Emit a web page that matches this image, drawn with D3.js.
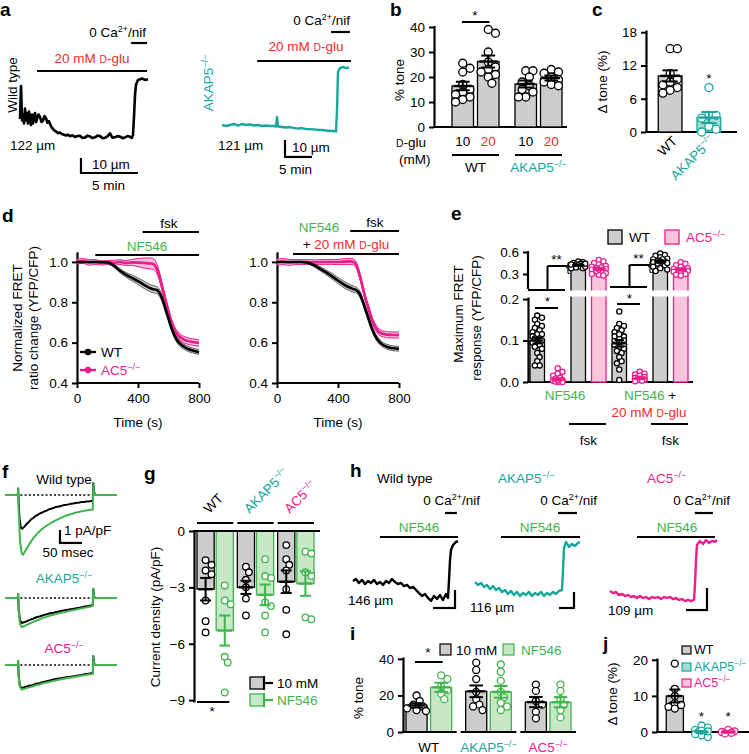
<!DOCTYPE html>
<html><head><meta charset="utf-8">
<script src="https://cdn.jsdelivr.net/npm/d3@7/dist/d3.min.js"></script>
<style>html,body{margin:0;padding:0;background:#fff;}svg{display:block;}</style>
</head><body>
<svg id="fig" width="749" height="754"></svg>
<script>
// ================= DATA =================
// panel a: arteriole diameter traces [time (min), diameter (µm)]
const aWT = [[0,134],[0.09,156],[0.18,133],[0.26,137],[0.35,131],[0.44,141],[0.53,133],[0.61,138],[0.7,131],[0.79,139],[0.88,134],[0.96,130],[1.05,137],[1.14,131],[1.23,136],[1.32,138],[1.41,132],[1.49,134],[1.62,137],[1.75,135.5],[1.88,132],[2.02,133],[2.15,136],[2.28,134.5],[2.41,131.5],[2.54,132.5],[2.68,130],[2.81,128],[2.94,127],[3.07,126],[3.2,125.5],[3.33,124.5],[3.5,125],[3.68,124],[3.86,123.5],[4.04,123],[4.2,123.6],[4.39,122.5],[4.6,123.2],[4.82,122],[5.04,122.7],[5.26,122.8],[5.48,121.4],[5.7,121.6],[5.92,122.9],[6.14,122.4],[6.36,121.3],[6.58,121.8],[6.8,122.9],[7.02,122.6],[7.24,121.2],[7.46,121.5],[7.68,122.4],[7.89,124.5],[8.1,121.6],[8.33,121.8],[8.55,122.6],[8.77,122.3],[9.0,121.2],[9.21,121.7],[9.43,122.6],[9.65,122.2],[9.8,121.4],[9.91,123],[10.0,135],[10.09,150],[10.18,157],[10.35,160],[10.7,161],[11.0,160],[11.23,160.5]];
const aAKAP = [[0,121],[0.74,120.4],[1.48,121],[2.22,121.6],[2.96,120.7],[3.7,121.6],[4.44,121],[5.19,121.3],[5.93,120.7],[6.67,121],[7.41,120.4],[8.15,120.7],[8.89,120.4],[9.63,120.4],[10.0,120.1],[10.19,125.7],[10.37,120.1],[11.1,119.8],[11.85,119.5],[12.59,119.8],[13.33,119.2],[14.07,118.9],[14.81,119.2],[15.56,118.6],[16.3,118.6],[17.04,118.4],[17.78,118.1],[18.52,118.1],[19.26,117.8],[20.0,117.5],[20.74,117.5],[21.11,117.2],[21.3,129.8],[21.48,152.2],[21.85,154.5],[22.41,155.1],[22.96,154.5],[23.52,154.8]];
const aWT_glu = [1.5, 11.15], aWT_ca = [9.75, 11.15];
const aAKAP_glu = [6.5, 23.9], aAKAP_ca = [20.2, 23.7];

// panel b: % tone
const bGroups = ["WT", "AKAP5"], bConds = ["10", "20"];
const bWT10 = [25.5,23.5,22,17,15,14,13,12,11,10];
const bWT20 = [39,37.5,30,26,24,23,21,20,17.5,22];
const bAK10 = [22.5,22.5,20,18,16.5,15,14,12,12];
const bAK20 = [23,22,21.5,20,19,18,17,16.5];
const bMeans = [16.4, 26.2, 17.2, 19.6];
const bSems  = [1.7, 2.4, 1.4, 1.0];

// panel c: Δ tone
const cCats = ["WT", "AKAP5"];
const cWT = [15,15,10.5,9.5,8.5,8,7.5,7,9];
const cAK = [8,3,3,2.5,1,0.5,0];
const cMeans = [10.1, 2.6], cSems = [1.0, 1.0];

// panel d: normalized FRET ratio (mean, sem)
const dTime = [0,40,80,120,160,200,240,280,320,360,400,440,480,500,520,540,560,580,600,620,640,660,680,720,760,800];
const dL_WT  = [1,1,1,1,1,0.998,0.982,0.958,0.937,0.921,0.905,0.887,0.870,0.865,0.862,0.848,0.815,0.768,0.72,0.672,0.635,0.608,0.592,0.572,0.561,0.553];
const dL_WTs = [0,0,0,0,0.002,0.004,0.007,0.01,0.012,0.014,0.016,0.018,0.018,0.018,0.017,0.017,0.016,0.016,0.015,0.015,0.014,0.014,0.013,0.013,0.012,0.012];
const dL_AC  = [1.002,1.005,0.998,1.0,0.995,0.998,0.996,1.0,0.995,0.998,0.997,0.995,0.993,0.99,0.972,0.93,0.87,0.81,0.752,0.7,0.662,0.64,0.625,0.61,0.603,0.598];
const dL_ACs = [0.012,0.012,0.014,0.012,0.01,0.01,0.012,0.012,0.012,0.015,0.02,0.025,0.027,0.027,0.025,0.022,0.02,0.019,0.018,0.018,0.017,0.016,0.016,0.016,0.016,0.016];
const dR_WT  = [1,1,1,1,1,0.997,0.985,0.968,0.95,0.93,0.908,0.888,0.872,0.866,0.86,0.845,0.81,0.765,0.72,0.675,0.64,0.615,0.598,0.58,0.572,0.57];
const dR_WTs = [0,0,0,0,0.002,0.004,0.007,0.01,0.012,0.014,0.015,0.016,0.016,0.016,0.015,0.015,0.015,0.014,0.014,0.013,0.013,0.013,0.012,0.012,0.012,0.012];
const dR_AC  = [1.0,1.002,0.998,1.0,1.0,1.0,0.998,1.0,1.0,1.0,1.0,1.002,1.003,1.0,0.985,0.94,0.88,0.82,0.77,0.72,0.685,0.66,0.648,0.64,0.638,0.638];
const dR_ACs = [0.015,0.015,0.015,0.012,0.012,0.012,0.012,0.012,0.012,0.012,0.013,0.014,0.015,0.015,0.015,0.015,0.015,0.015,0.015,0.015,0.015,0.015,0.015,0.015,0.015,0.015];
const dTicksX = [0,400,800], dTicksY = [0.4,0.6,0.8,1.0];
const dL_nf = [120, 800], dL_fsk = [430, 800];
const dR_nf = [105, 800], dR_fsk = [480, 800];

// panel e: maximum FRET response
const eGroups = ["NF546", "NF546+glu"], eConds = ["WT", "AC5", "WTfsk", "AC5fsk"];
const eWTNF   = [0.16,0.155,0.15,0.14,0.135,0.13,0.125,0.12,0.115,0.115,0.11,0.105,0.105,0.1,0.1,0.095,0.09,0.085,0.08,0.07,0.06,0.05,0.04,0.04];
const eACNF   = [0.033,0.025,0.02,0.015,0.01,0.008,0.005,0.003,0.002,0.0,0.0,0.001,0.004];
const eWTfsk  = [0.47,0.46,0.45,0.44,0.43,0.42,0.42,0.41,0.40,0.39,0.38,0.38,0.40,0.43,0.44];
const eACfsk  = [0.49,0.47,0.45,0.43,0.41,0.40,0.39,0.38,0.37,0.36,0.35,0.33,0.31,0.29,0.28,0.30,0.34,0.36];
const eWTNF2  = [0.17,0.14,0.135,0.13,0.125,0.12,0.11,0.105,0.1,0.1,0.095,0.09,0.085,0.08,0.075,0.07,0.06,0.05,0.045,0.03,0.005,0.11,0.115,0.09];
const eACNF2  = [0.025,0.02,0.018,0.015,0.012,0.01,0.008,0.006,0.005,0.003,0.002];
const eWTfsk2 = [0.58,0.56,0.55,0.53,0.51,0.5,0.48,0.47,0.46,0.45,0.44,0.42,0.4,0.38,0.36,0.34,0.5,0.47,0.45];
const eACfsk2 = [0.46,0.44,0.42,0.4,0.38,0.37,0.36,0.35,0.34,0.33,0.32,0.3,0.29,0.28];
const eMeans = [0.1, 0.006, 0.42, 0.37, 0.093, 0.009, 0.47, 0.36];
const eSems  = [0.007, 0.0025, 0.008, 0.014, 0.008, 0.002, 0.015, 0.013];
const eTicksLow = [0.0, 0.1, 0.2], eTicksUp = [0.3, 0.6];

// panel f: current traces [time (ms), current (pA/pF)]
const fWT_10 = [[0,0],[29,0],[30,0.5],[31,-0.5],[33,-1.8],[36,-2.5],[39,-2.6],[44,-2.45],[50,-2.2],[55,-2.05],[60,-1.85],[65,-1.75],[70,-1.6],[75,-1.52],[80,-1.4],[85,-1.35],[90,-1.25],[95,-1.2],[100,-1.1],[105,-1.06],[110,-1.0],[115,-0.93],[120,-0.9],[125,-0.87],[130,-0.82],[135,-0.77],[140,-0.75],[145,-0.72],[150,-0.68],[155,-0.66],[160,-0.62],[165,-0.6],[170,-0.58],[175,-0.53],[180,-0.54],[185,-0.5],[190,-0.5],[195,-0.47],[200,-0.46],[201,0.9],[203,0.2],[206,0],[255,0]];
const fWT_NF = [[0,0],[29,0],[30,0.5],[31,-1],[34,-3.5],[38,-4.5],[41,-4.6],[46,-4.3],[55,-3.8],[60,-3.55],[65,-3.3],[70,-3.1],[75,-2.9],[80,-2.75],[85,-2.6],[90,-2.48],[95,-2.35],[100,-2.25],[105,-2.15],[110,-2.05],[115,-1.95],[120,-1.88],[125,-1.8],[130,-1.72],[135,-1.65],[140,-1.58],[145,-1.52],[150,-1.47],[155,-1.42],[160,-1.37],[165,-1.33],[170,-1.29],[175,-1.25],[180,-1.22],[185,-1.19],[190,-1.16],[200,-1.12],[201,0.8],[203,0.2],[206,0],[255,0]];
const fAK_10 = [[0,0],[29,0],[30,0.3],[31,-0.8],[34,-1.7],[38,-1.92],[45,-1.85],[55,-1.7],[62,-1.62],[70,-1.5],[78,-1.43],[85,-1.35],[92,-1.28],[100,-1.2],[110,-1.13],[120,-1.05],[130,-0.98],[140,-0.92],[150,-0.86],[160,-0.8],[170,-0.74],[180,-0.68],[190,-0.62],[200,-0.55],[201,0.7],[203,0.1],[206,0],[255,0]];
const fAK_NF = [[0,0],[29,0],[30,0.3],[31,-0.9],[34,-2.0],[38,-2.23],[45,-2.15],[55,-1.98],[62,-1.87],[70,-1.75],[78,-1.65],[85,-1.55],[92,-1.47],[100,-1.38],[110,-1.29],[120,-1.2],[130,-1.12],[140,-1.05],[150,-0.97],[160,-0.9],[170,-0.83],[180,-0.76],[190,-0.69],[200,-0.62],[201,0.7],[203,0.1],[206,0],[255,0]];
const fAC_10 = [[0,0],[29,0],[30,0.3],[31,-0.8],[34,-1.6],[38,-1.77],[45,-1.7],[55,-1.6],[62,-1.55],[70,-1.45],[78,-1.4],[85,-1.32],[92,-1.27],[100,-1.2],[110,-1.12],[120,-1.06],[130,-1.0],[140,-0.95],[150,-0.9],[160,-0.85],[170,-0.78],[180,-0.72],[190,-0.68],[200,-0.62],[201,0.7],[203,0.1],[206,0],[255,0]];
const fAC_NF = [[0,0],[29,0],[30,0.3],[31,-0.9],[34,-1.7],[38,-1.88],[45,-1.82],[55,-1.72],[62,-1.65],[70,-1.56],[78,-1.5],[85,-1.42],[92,-1.36],[100,-1.3],[110,-1.22],[120,-1.15],[130,-1.08],[140,-1.02],[150,-0.96],[160,-0.9],[170,-0.84],[180,-0.78],[190,-0.73],[200,-0.69],[201,0.7],[203,0.1],[206,0],[255,0]];

// panel g: current density (pA/pF)
const gGroups = ["WT", "AKAP5", "AC5"], gConds = ["10 mM", "NF546"];
const gWT10 = [-1.55,-1.8,-2.1,-2.3,-3.7,-4.8,-5.4];
const gWTNF = [-2.9,-3.7,-3.9,-6.7,-7.0,-8.6];
const gAK10 = [-1.9,-2.2,-2.6,-3.0,-3.6,-4.5];
const gAKNF = [-1.5,-2.4,-2.5,-3.8,-4.0,-4.5,-5.4];
const gAC10 = [-0.75,-1.5,-1.8,-2.1,-3.1,-4.2,-5.5];
const gACNF = [-1.1,-1.2,-2.2,-2.4,-4.6,-4.7];
const gMeans = [-3.1, -5.3, -3.0, -3.4, -2.7, -2.8];
const gSems  = [0.6, 0.8, 0.35, 0.55, 0.6, 0.65];
const gTicks = [0, -3, -6, -9];

// panel h: diameter traces [time (min), diameter (µm)]
const hWT = [[0,146],[0.68,147.1],[1.36,144.9],[2.05,146.6],[2.73,144.3],[3.41,146],[4.09,144.9],[4.77,146.6],[5.45,144.3],[6.14,145.4],[6.82,143.8],[7.5,146],[8.18,144.9],[8.86,147.1],[9.55,145.4],[10.23,144.3],[10.91,144.9],[11.59,143.2],[12.27,143.8],[12.95,142.1],[13.64,142.7],[14.32,141],[15,139.3],[15.68,137.7],[16.36,138.8],[17.05,136.6],[17.73,134.9],[18.41,137.7],[19.09,136],[19.77,138.2],[20.45,135.4],[21.14,138.8],[21.59,136.6],[21.82,146.6],[22.05,157.7],[22.27,163.2],[22.73,166],[23.41,167.7],[23.86,168.2]];
const hAKAP = [[0,116],[1,114.1],[2,115.4],[3,112.9],[4,114.1],[5,111.6],[6,113.5],[7,111],[8,112.3],[9,109.8],[10,111],[11,108.5],[12,110.4],[13,107.9],[14,109.8],[15,107.3],[16,109.1],[17,107.9],[18,109.8],[19,107.3],[20,109.1],[21,107.9],[22,109.8],[23,107.3],[24,109.1],[25,107.9],[26,109.8],[27,108.5],[28,110.4],[29,111],[29.33,123.5],[29.67,137.3],[30.33,141],[31.33,137.9],[32.33,139.8],[33.33,138.5],[34.33,140.4],[35,141]];
const hAC5 = [[0,109.5],[0.71,108.5],[1.43,109],[2.14,107.6],[2.86,108.1],[3.57,107.2],[4.29,107.6],[5,106.7],[5.71,107.2],[6.43,106.3],[7.14,107.2],[7.86,106.3],[8.57,106.7],[9.29,105.8],[10,106.7],[10.71,106.3],[11.43,106.7],[12.14,105.8],[12.86,106.7],[13.57,106.3],[14.29,106.7],[15,105.8],[15.71,106.3],[16.43,105.4],[17.14,105.8],[17.86,104.9],[18.57,105.4],[19.29,104.9],[20,105.4],[20.24,112.2],[20.48,123.5],[20.71,130.4],[21.43,132.2],[22.14,130.8],[22.86,132.6],[23.57,131.3],[24.29,132.2],[25,131.8],[25.48,132.6]];
const hWT_nf = [6.14, 23.86], hWT_ca = [20.9, 23.6];
const hAK_nf = [8.67, 35], hAK_ca = [27.67, 34];
const hAC_nf = [6.43, 25], hAC_ca = [20.2, 24.5];

// panel i: % tone
const iGroups = ["WT", "AKAP5", "AC5"], iConds = ["10 mM", "NF546"];
const iWT10 = [20,17,15,14,13,12,11.5];
const iWTNF = [31,29,25,23,21,18];
const iAK10 = [38,34,29,22,18,15,14,12];
const iAKNF = [37,33,28,22,19,16,14,12];
const iAC10 = [26,22.5,17,15,11,7.5];
const iACNF = [26,22.5,18,15,12,8];
const iMeans = [14.6, 24.5, 22.3, 22.0, 16.4, 16.3];
const iSems  = [1.2, 2.5, 3.2, 3.2, 2.8, 2.8];

// panel j: Δ tone
const jCats = ["WT", "AKAP5", "AC5"];
const jWT = [19,12,10,8,7,6.5,7.5];
const jAK = [1.8,1.2,0.6,0,-0.4,-0.9,-1.4,0.4,-0.6,0.2];
const jAC = [0.6,0.2,-0.2,0,-0.4];
const jMeans = [10, 0, 0], jSems = [1.8, 0.3, 0.2];

// ================= STYLE =================
const FONT = "'Liberation Sans', Arial, Helvetica, sans-serif";
const FS = 13.5;
const COL = {teal:"#17a79d", pink:"#ec1c8c", green:"#3fb54c", red:"#ee2b2e", grey:"#cdcdcd",
  lgreen:"#c8e7c7", lpink:"#f7c5dc", lteal:"#a3dbd5", band:"#c4c4c4", lband:"#f6b6d6"};

const svg = d3.select("#fig").attr("font-family", FONT);

// ================= HELPERS =================
function line(g,x1,y1,x2,y2,col="#000",w=2){
  return g.append("line").attr("x1",x1).attr("y1",y1).attr("x2",x2).attr("y2",y2)
    .attr("stroke",col).attr("stroke-width",w).attr("stroke-linecap","butt");
}
function rich(g,x,y,parts,o={}){
  const size=o.size||FS;
  const t=g.append("text").attr("x",x).attr("y",y).attr("font-size",size)
    .attr("text-anchor",o.anchor||"start").attr("fill",o.fill||"#000");
  if(o.rot) t.attr("transform",`rotate(${o.rot},${x},${y})`);
  if(o.bold) t.attr("font-weight","bold");
  if(typeof parts==="string") parts=[[parts]];
  let cur=0;
  parts.forEach(p=>{
    const st=p[1]||{};
    const s=t.append("tspan").text(p[0]);
    if(st.fill) s.attr("fill",st.fill);
    let target=0;
    if(st.sup){ s.attr("font-size",size*0.66); target=-size*0.4; }
    if(st.sc){ s.attr("font-size",size*0.76); }
    if(target-cur!==0) s.attr("dy",target-cur);
    cur=target;
  });
  return t;
}
const KO = name => [[name],["\u2212/\u2212",{sup:true}]];
const CA = [["0 Ca"],["2+",{sup:true}],["/nif"]];
const GLU = [["20 mM "],["D",{sc:true}],["-glu"]];
function letter(g,x,y,s){ rich(g,x,y,s,{size:19,bold:true}); }

function yAxis(g, scale, ticks, x, fmt){
  const ax=g.append("g").attr("transform",`translate(${x},0)`)
    .call(d3.axisLeft(scale).tickValues(ticks).tickSize(5).tickSizeOuter(0).tickPadding(4).tickFormat(fmt||(d=>d)));
  ax.attr("font-family",FONT).attr("font-size",FS);
  ax.select(".domain").attr("stroke-width",2.2);
  ax.selectAll(".tick line").attr("stroke-width",2);
  ax.selectAll(".tick text").attr("fill","#000");
  return ax;
}
function xAxisB(g, scale, ticks, y){
  const ax=g.append("g").attr("transform",`translate(0,${y})`)
    .call(d3.axisBottom(scale).tickValues(ticks).tickSize(5).tickSizeOuter(0).tickPadding(5));
  ax.attr("font-family",FONT).attr("font-size",FS);
  ax.select(".domain").attr("stroke-width",2.2);
  ax.selectAll(".tick line").attr("stroke-width",2);
  ax.selectAll(".tick text").attr("fill","#000");
  return ax;
}
function nested(groups, conds, x0, x1, gGap, bGap){
  const gStep=(x1-x0+gGap)/groups.length;
  const G=d3.scaleBand().domain(groups).range([x0,x1]).paddingInner(gGap/gStep).paddingOuter(0);
  const bw=G.bandwidth();
  const cStep=(bw+bGap)/conds.length;
  const B=d3.scaleBand().domain(conds).range([0,bw]).paddingInner(bGap/cStep).paddingOuter(0);
  return {G,B,pos:(gr,c)=>({x:G(gr)+B(c), w:B.bandwidth()})};
}
function swarm(vals, ys, cx, r, maxOff){
  const idx=vals.map((v,i)=>({i,y:ys(v)})).sort((a,b)=>a.y-b.y);
  const placed=[], out=new Array(vals.length);
  const cands=[0]; for(let k=1;k<=14;k++){cands.push(k*r*0.9,-k*r*0.9);}
  idx.forEach(p=>{
    let chosen=null,best=-1,bestOff=0;
    for(const off of cands){
      if(Math.abs(off)>maxOff+1e-6) continue;
      let md=Infinity;
      for(const q of placed){const dd=Math.hypot(q.x-off,q.y-p.y); if(dd<md) md=dd;}
      if(md>=2*r*0.9){chosen=off;break;}
      if(md>best){best=md;bestOff=off;}
    }
    if(chosen===null) chosen=bestOff;
    placed.push({x:chosen,y:p.y}); out[p.i]=cx+chosen;
  });
  return out;
}
function barSet(g, spec, ys, base){
  const yb=ys(base), yt=ys(spec.mean);
  g.append("rect").attr("x",spec.x).attr("y",Math.min(yb,yt)).attr("width",spec.w)
    .attr("height",Math.abs(yb-yt)).attr("fill",spec.fill).attr("stroke",spec.stroke).attr("stroke-width",1.3);
  const cx=spec.x+spec.w/2, r=spec.r||3.5;
  const xs=swarm(spec.pts, ys, cx, r, spec.w/2 - r*0.3);
  g.selectAll(null).data(spec.pts).enter().append("circle")
    .attr("cx",(d,i)=>xs[i]).attr("cy",d=>ys(d)).attr("r",r)
    .attr("fill","#fff").attr("stroke",spec.dot).attr("stroke-width",1.3);
  errBar(g, cx, spec.w, ys, spec.mean, spec.sem, spec.eb||spec.dot);
}
function errBar(g,cx,w,ys,m,s,col){
  const c=w*0.32, ml=w*0.42;
  line(g,cx,ys(m-s),cx,ys(m+s),col,2);
  line(g,cx-c,ys(m-s),cx+c,ys(m-s),col,2);
  line(g,cx-c,ys(m+s),cx+c,ys(m+s),col,2);
  line(g,cx-ml,ys(m),cx+ml,ys(m),col,2.4);
}
function trace(g,data,xs,ys,col,w){
  g.append("path").datum(data).attr("fill","none").attr("stroke",col).attr("stroke-width",w)
    .attr("stroke-linejoin","round").attr("d",d3.line().x(d=>xs(d[0])).y(d=>ys(d[1])));
}
function protoBar(g,xs,range,y){ line(g,xs(range[0]),y,xs(range[1]),y,"#000",2.2); }
function scaleBar(g,xs,ys,t,d,dt,dd){
  line(g,xs(t),ys(d)+1,xs(t),ys(d+dd),"#000",2.2);
  line(g,xs(t),ys(d),xs(t+dt),ys(d),"#000",2.2);
}

// ================= PANEL a =================
{
  const g=svg.append("g");
  letter(g,0,16,"a");
  const xs=d3.scaleLinear().domain([0,11.23]).range([20,148]);
  const ys=d3.scaleLinear().domain([122,161]).range([137,78.5]);
  rich(g,17,85,"Wild type",{rot:-90,anchor:"middle"});
  rich(g,146,37,CA,{anchor:"end"});
  protoBar(g,xs,aWT_ca,43);
  rich(g,92,63,GLU,{anchor:"middle",fill:COL.red});
  protoBar(g,xs,aWT_glu,71);
  trace(g,aWT,xs,ys,"#000",2.6);
  rich(g,10,150,"122 \u00b5m");
  scaleBar(g,xs,ys,5.35,98,5,10);
  rich(g,92,169,"10 \u00b5m");
  rich(g,92,190,"5 min");

  const xs2=d3.scaleLinear().domain([0,23.52]).range([222,349]);
  const ys2=d3.scaleLinear().domain([121,155.1]).range([125,67]);
  rich(g,213,83,KO("AKAP5"),{rot:-90,anchor:"middle",fill:COL.teal});
  rich(g,350,25,CA,{anchor:"end"});
  protoBar(g,xs2,aAKAP_ca,32);
  rich(g,306,51,GLU,{anchor:"middle",fill:COL.red});
  protoBar(g,xs2,aAKAP_glu,61);
  trace(g,aAKAP,xs2,ys2,COL.teal,2.4);
  rich(g,218,150,"121 \u00b5m");
  scaleBar(g,xs2,ys2,11.67,102.2,5,10);
  rich(g,292,152,"10 \u00b5m");
  rich(g,279,174,"5 min");
}

// ================= PANEL b =================
{
  const g=svg.append("g");
  letter(g,390,16,"b");
  const ys=d3.scaleLinear().domain([0,40]).range([127,27]);
  const L=nested(bGroups,bConds,452,562,16,4);
  yAxis(g,d3.scaleLinear().domain([0,40.6]).range([127,25.5]),[0,10,20,30,40],434);
  line(g,433,127,567,127,"#000",2.2);
  rich(g,404,80,"% tone",{rot:-90,anchor:"middle"});
  const pts=[bWT10,bWT20,bAK10,bAK20];
  let k=0;
  bGroups.forEach(gr=>bConds.forEach(c=>{
    const p=L.pos(gr,c);
    barSet(g,{x:p.x,w:p.w,mean:bMeans[k],sem:bSems[k],pts:pts[k],fill:COL.grey,stroke:"#000",dot:"#000",r:4},ys,0);
    rich(g,p.x+p.w/2,146,c,{anchor:"middle",fill:c==="20"?COL.red:"#000"});
    k++;
  }));
  rich(g,396,147,[["D",{sc:true}],["-glu"]]);
  rich(g,399,164,"(mM)");
  bGroups.forEach(gr=>{
    const x0=L.G(gr), x1=x0+L.G.bandwidth();
    line(g,x0,155,x1,155,"#000",2.2);
  });
  const wtC=L.G("WT")+L.G.bandwidth()/2, akC=L.G("AKAP5")+L.G.bandwidth()/2;
  rich(g,wtC,172,"WT",{anchor:"middle"});
  rich(g,akC,172,KO("AKAP5"),{anchor:"middle",fill:COL.teal});
  line(g,L.pos("WT","10").x+10,22,L.pos("WT","20").x+12,22,"#000",2);
  rich(g,475,20,"*",{anchor:"middle"});
}

// ================= PANEL c =================
{
  const g=svg.append("g");
  letter(g,592,16,"c");
  const ys=d3.scaleLinear().domain([0,18]).range([132,32]);
  const L=nested(["all"],cCats,652,727,15,15);
  yAxis(g,d3.scaleLinear().domain([0,18.4]).range([132,30]),[0,6,12,18],646);
  line(g,645,132,737,132,"#000",2.2);
  rich(g,607,82,[["\u0394 tone (%)"]],{rot:-90,anchor:"middle"});
  const pWT=L.pos("all","WT"), pAK=L.pos("all","AKAP5");
  barSet(g,{x:pWT.x,w:pWT.w,mean:cMeans[0],sem:cSems[0],pts:cWT,fill:COL.grey,stroke:"#000",dot:"#000",r:4},ys,0);
  barSet(g,{x:pAK.x,w:pAK.w,mean:cMeans[1],sem:cSems[1],pts:cAK,fill:COL.lteal,stroke:COL.teal,dot:COL.teal,r:4},ys,0);
  rich(g,pAK.x+pAK.w/2,83,"*",{anchor:"middle"});
  rich(g,pWT.x+pWT.w/2+8,142,"WT",{anchor:"end",rot:-45});
  rich(g,pAK.x+pAK.w/2+7,141,KO("AKAP5"),{anchor:"end",rot:-45,fill:COL.teal});
}

// ================= PANEL d =================
function fretPlot(g, x0, mWT, sWT, mAC, sAC){
  const xs=d3.scaleLinear().domain([0,800]).range([x0,x0+122]);
  const ys=d3.scaleLinear().domain([0.4,1.0]).range([383,262]);
  yAxis(g,d3.scaleLinear().domain([0.4,1.05]).range([383,251.8]),dTicksY,x0,d3.format(".1f"));
  const ax=xAxisB(g,xs,dTicksX,383);
  ax.select(".domain").attr("d",`M${x0},0H${x0+122}`);
  const rows=dTime.map((t,i)=>({t,wm:mWT[i],ws:sWT[i],am:mAC[i],as:sAC[i]}));
  const areaW=d3.area().x(d=>xs(d.t)).y0(d=>ys(d.wm-d.ws)).y1(d=>ys(d.wm+d.ws)).curve(d3.curveMonotoneX);
  const areaA=d3.area().x(d=>xs(d.t)).y0(d=>ys(d.am-d.as)).y1(d=>ys(d.am+d.as)).curve(d3.curveMonotoneX);
  const lw=(acc)=>d3.line().x(d=>xs(d.t)).y(acc).curve(d3.curveMonotoneX);
  g.append("path").datum(rows).attr("d",areaA).attr("fill",COL.lband).attr("opacity",0.85);
  g.append("path").datum(rows).attr("d",lw(d=>ys(d.am+d.as))).attr("fill","none").attr("stroke",COL.pink).attr("stroke-width",1);
  g.append("path").datum(rows).attr("d",lw(d=>ys(d.am-d.as))).attr("fill","none").attr("stroke",COL.pink).attr("stroke-width",1);
  g.append("path").datum(rows).attr("d",areaW).attr("fill",COL.band).attr("opacity",0.85);
  g.append("path").datum(rows).attr("d",lw(d=>ys(d.wm+d.ws))).attr("fill","none").attr("stroke","#444").attr("stroke-width",0.8);
  g.append("path").datum(rows).attr("d",lw(d=>ys(d.wm-d.ws))).attr("fill","none").attr("stroke","#444").attr("stroke-width",0.8);
  g.append("path").datum(rows).attr("d",lw(d=>ys(d.am))).attr("fill","none").attr("stroke",COL.pink).attr("stroke-width",2.6);
  g.append("path").datum(rows).attr("d",lw(d=>ys(d.wm))).attr("fill","none").attr("stroke","#000").attr("stroke-width",2.6);
  rich(g,x0+61,427,"Time (s)",{anchor:"middle"});
  return xs;
}
{
  const g=svg.append("g");
  letter(g,2,222,"d");
  const xs=fretPlot(g,77,dL_WT,dL_WTs,dL_AC,dL_ACs);
  rich(g,22,318,"Normalized FRET",{rot:-90,anchor:"middle"});
  rich(g,38,318,"ratio change (YFP/CFP)",{rot:-90,anchor:"middle"});
  protoBar(g,xs,dL_fsk,232); rich(g,169,228,"fsk",{anchor:"middle"});
  protoBar(g,xs,dL_nf,255); rich(g,147,251,"NF546",{anchor:"middle",fill:COL.green});
  line(g,80,352,96,352,"#000",2.4); g.append("circle").attr("cx",88).attr("cy",352).attr("r",3.2).attr("fill","#000");
  rich(g,101,357,"WT");
  line(g,80,370,96,370,COL.pink,2.4); g.append("circle").attr("cx",88).attr("cy",370).attr("r",3.2).attr("fill",COL.pink);
  rich(g,101,375,KO("AC5"),{fill:COL.pink});

  const g2=svg.append("g");
  const xs2=fretPlot(g2,277,dR_WT,dR_WTs,dR_AC,dR_ACs);
  protoBar(g2,xs2,dR_fsk,231); rich(g2,375,227,"fsk",{anchor:"middle"});
  rich(g2,319,232,"NF546",{anchor:"middle",fill:COL.green});
  rich(g2,346,249,[["+ "],["20 mM ",{fill:COL.red}],["D",{sc:true,fill:COL.red}],["-glu",{fill:COL.red}]],{anchor:"middle"});
  protoBar(g2,xs2,dR_nf,254);
}

// ================= PANEL e =================
{
  const g=svg.append("g");
  letter(g,451,220,"e");
  const yL=d3.scaleLinear().domain([0,0.2]).range([382,299]);
  const yU=d3.scaleLinear().domain([0.3,0.6]).range([274,252]);
  const L=nested(eGroups,eConds,530,688,6,6);
  yAxis(g,d3.scaleLinear().domain([0,0.205]).range([382,297]),eTicksLow,528,d3.format(".1f"));
  const au=yAxis(g,d3.scaleLinear().domain([0.3,0.6]).range([274,252]),eTicksUp,528,d3.format(".1f"));
  au.select(".domain").attr("d","M0,251V289");
  line(g,527,382,693,382,"#000",2.2);
  rich(g,463,314,"Maximum FRET",{rot:-90,anchor:"middle"});
  rich(g,481,318,"response (YFP/CFP)",{rot:-90,anchor:"middle"});
  const pts=[eWTNF,eACNF,eWTfsk,eACfsk,eWTNF2,eACNF2,eWTfsk2,eACfsk2];
  let k=0;
  eGroups.forEach(gr=>eConds.forEach(c=>{
    const p=L.pos(gr,c);
    const isAC=c.startsWith("AC"), isF=c.endsWith("fsk");
    const fill=isAC?COL.lpink:COL.grey, stroke=isAC?COL.pink:"#000";
    const spec={x:p.x,w:p.w,mean:eMeans[k],sem:eSems[k],pts:pts[k],fill,stroke,dot:stroke,r:2.6};
    if(isF){
      g.append("rect").attr("x",p.x).attr("y",yU(spec.mean)).attr("width",p.w).attr("height",yL(0)-yU(spec.mean))
        .attr("fill",fill).attr("stroke",stroke).attr("stroke-width",1.3);
      g.append("rect").attr("x",p.x-1.5).attr("y",290.5).attr("width",p.w+3).attr("height",6).attr("fill","#fff");
      const xsw=swarm(spec.pts,yU,p.x+p.w/2,2.6,p.w/2);
      g.selectAll(null).data(spec.pts).enter().append("circle").attr("cx",(d,i)=>xsw[i]).attr("cy",d=>yU(d))
        .attr("r",2.6).attr("fill","#fff").attr("stroke",stroke).attr("stroke-width",1.2);
      errBar(g,p.x+p.w/2,p.w,yU,spec.mean,spec.sem,stroke);
    } else {
      barSet(g,spec,yL,0);
    }
    k++;
  }));
  [["NF546",300,308,290,266],["NF546+glu",297,304,287,265]].forEach(s=>{
    const gr=s[0];
    const pW=L.pos(gr,"WT"), pA=L.pos(gr,"AC5"), pF=L.pos(gr,"WTfsk");
    const midWA=(pW.x+pA.x+pA.w)/2;
    line(g,pW.x+5,s[2],pA.x+pA.w-7,s[2],"#000",2);
    rich(g,midWA,s[1]+6,"*",{anchor:"middle"});
    line(g,pW.x-2,s[3],pA.x+pA.w,s[3],"#000",2);
    line(g,midWA,s[3],midWA,s[4],"#000",2);
    line(g,midWA,s[4],pF.x-3,s[4],"#000",2);
    rich(g,midWA+9,s[4]-2,"**",{anchor:"middle"});
    rich(g,pF.x-3,s[4]+5,"{",{size:13,anchor:"middle"});
  });
  g.append("rect").attr("x",608).attr("y",230).attr("width",14).attr("height",14).attr("fill",COL.grey).attr("stroke","#000").attr("stroke-width",1.3);
  rich(g,629,242,"WT");
  g.append("rect").attr("x",665).attr("y",230).attr("width",14).attr("height",14).attr("fill",COL.lpink).attr("stroke",COL.pink).attr("stroke-width",1.3);
  rich(g,686,242,KO("AC5"),{fill:COL.pink});
  rich(g,565,400,"NF546",{anchor:"middle",fill:COL.green});
  rich(g,650,400,[["NF546",{fill:COL.green}],[" +"]],{anchor:"middle"});
  rich(g,649,417,GLU,{anchor:"middle",fill:COL.red});
  eGroups.forEach(gr=>{
    const a=L.pos(gr,"WTfsk"), b=L.pos(gr,"AC5fsk");
    line(g,a.x-2,424,b.x+b.w,424,"#000",2.2);
    rich(g,(a.x+b.x+b.w)/2,445,"fsk",{anchor:"middle"});
  });
}

// ================= PANEL f =================
{
  const g=svg.append("g");
  letter(g,2,478,"f");
  const xs=d3.scaleLinear().domain([0,255]).range([5,117]);
  const sets=[[495,fWT_10,fWT_NF,"Wild type","#000",484],[598,fAK_10,fAK_NF,KO("AKAP5"),COL.teal,583],[665,fAC_10,fAC_NF,KO("AC5"),COL.pink,653]];
  sets.forEach(s=>{
    const ys=d3.scaleLinear().domain([0,-1]).range([s[0],s[0]+13]);
    line(g,xs(35),ys(0),xs(200),ys(0),"#000",1.6).attr("stroke-dasharray","2,2.2");
    trace(g,s[1],xs,ys,"#000",2);
    trace(g,s[2],xs,ys,COL.green,2);
    rich(g,64,s[5],s[3],{anchor:"middle",fill:s[4]});
    if(s[0]===495){
      scaleBar(g,xs,ys,125.2,-3.69,50,1);
      rich(g,64,535,"1 pA/pF");
      rich(g,68,557,"50 msec",{anchor:"middle"});
    }
  });
}

// ================= PANEL g =================
{
  const g=svg.append("g");
  letter(g,144,480,"g");
  const ys=d3.scaleLinear().domain([0,-9]).range([531,700]);
  const L=nested(gGroups,gConds,197,314,4,2);
  yAxis(g,d3.scaleLinear().domain([0,-9.1]).range([531,702]),gTicks,194,d3.format("d"));
  const pts=[gWT10,gWTNF,gAK10,gAKNF,gAC10,gACNF];
  let k=0;
  gGroups.forEach(gr=>gConds.forEach(c=>{
    const p=L.pos(gr,c), nf=c==="NF546";
    barSet(g,{x:p.x,w:p.w,mean:gMeans[k],sem:gSems[k],pts:pts[k],fill:nf?COL.lgreen:COL.grey,stroke:nf?COL.green:"#000",dot:nf?COL.green:"#000",r:3.3},ys,0);
    k++;
  }));
  line(g,193,531,320,531,"#000",2.2);
  rich(g,160,617,"Current density (pA/pF)",{rot:-90,anchor:"middle"});
  const cols={WT:"#000",AKAP5:COL.teal,AC5:COL.pink};
  gGroups.forEach(gr=>{
    const x0=L.G(gr), x1=x0+L.G.bandwidth();
    line(g,x0,523,x1,523,"#000",2.2);
    const lab=gr==="WT"?"WT":KO(gr);
    rich(g,(x0+x1)/2-6,514,lab,{anchor:"start",rot:-45,fill:cols[gr]});
  });
  const a=L.pos("WT","10 mM"), b=L.pos("WT","NF546");
  line(g,a.x,702,b.x+b.w-4,702,"#000",2);
  rich(g,(a.x+b.x+b.w)/2-3,716,"*",{anchor:"middle"});
  [[683,COL.grey,"#000","10 mM","#000"],[700,COL.lgreen,COL.green,"NF546",COL.green]].forEach(l=>{
    g.append("rect").attr("x",250).attr("y",l[0]-6).attr("width",14).attr("height",12).attr("fill",l[1]).attr("stroke",l[2]).attr("stroke-width",1.3);
    line(g,264,l[0]-7,264,l[0]+7,l[4],2.2);
    line(g,264,l[0],273,l[0],l[4],2.2);
    rich(g,277,l[0]+5,l[3],{fill:l[4]});
  });
}

// ================= PANEL h =================
{
  const g=svg.append("g");
  letter(g,350,477,"h");
  const defs=[
    {data:hWT,dom:[0,23.86],rng:[353,458],yd:[130,170],yr:[609.8,537.8],col:"#000",lab:"Wild type",labx:377,
     ca:hWT_ca,nf:hWT_nf,cax:480,nfx:419,size:"146 \u00b5m",sx:348,sy:605,sb:[23.18,131]},
    {data:hAKAP,dom:[0,35],rng:[475,580],yd:[100,140],yr:[607.6,543.6],col:COL.teal,lab:KO("AKAP5"),labx:498,
     ca:hAK_ca,nf:hAK_nf,cax:597,nfx:540,size:"116 \u00b5m",sx:470,sy:612,sb:[33,99.75]},
    {data:hAC5,dom:[0,25.48],rng:[610,717],yd:[100,140],yr:[611.8,523.8],col:COL.pink,lab:KO("AC5"),labx:647,
     ca:hAC_ca,nf:hAC_nf,cax:730,nfx:677,size:"109 \u00b5m",sx:608,sy:615,sb:[23.1,100.8]}
  ];
  defs.forEach(d=>{
    const xs=d3.scaleLinear().domain(d.dom).range(d.rng);
    const ys=d3.scaleLinear().domain(d.yd).range(d.yr);
    rich(g,d.labx,483,d.lab,{fill:d.col});
    rich(g,d.cax,505,CA,{anchor:"end"});
    protoBar(g,xs,d.ca,513);
    rich(g,d.nfx,532,"NF546",{anchor:"middle",fill:COL.green});
    protoBar(g,xs,d.nf,537);
    trace(g,d.data,xs,ys,d.col,2.4);
    rich(g,d.sx,d.sy,d.size);
    scaleBar(g,xs,ys,d.sb[0],d.sb[1],-5,10);
  });
}

// ================= PANEL i =================
{
  const g=svg.append("g");
  letter(g,350,640,"i");
  const ys=d3.scaleLinear().domain([0,40]).range([732,659]);
  const L=nested(iGroups,iConds,406,571,14,3.5);
  yAxis(g,d3.scaleLinear().domain([0,41]).range([732,657]),[0,20,40],403);
  rich(g,363,698,"% tone",{rot:-90,anchor:"middle"});
  const pts=[iWT10,iWTNF,iAK10,iAKNF,iAC10,iACNF];
  let k=0;
  iGroups.forEach(gr=>iConds.forEach(c=>{
    const p=L.pos(gr,c), nf=c==="NF546";
    barSet(g,{x:p.x,w:p.w,mean:iMeans[k],sem:iSems[k],pts:pts[k],fill:nf?COL.lgreen:COL.grey,stroke:nf?COL.green:"#000",dot:nf?COL.green:"#000",r:3.5},ys,0);
    k++;
  }));
  const cols={WT:"#000",AKAP5:COL.teal,AC5:COL.pink};
  iGroups.forEach((gr,i)=>{
    const x0=L.G(gr), x1=x0+L.G.bandwidth();
    line(g,i===0?402:x0-5,732,x1+5,732,"#000",2.2);
    rich(g,(x0+x1)/2,752,gr==="WT"?"WT":KO(gr),{anchor:"middle",fill:cols[gr]});
  });
  const a=L.pos("WT","10 mM"), b=L.pos("WT","NF546");
  line(g,a.x+9,662,b.x+12,662,"#000",2);
  rich(g,428,657,"*",{anchor:"middle"});
  g.append("rect").attr("x",440).attr("y",644).attr("width",11).attr("height",11).attr("fill",COL.grey).attr("stroke","#000").attr("stroke-width",1.2);
  rich(g,456,655,"10 mM");
  g.append("rect").attr("x",503).attr("y",644).attr("width",11).attr("height",11).attr("fill",COL.lgreen).attr("stroke",COL.green).attr("stroke-width",1.2);
  rich(g,521,655,"NF546",{fill:COL.green});
}

// ================= PANEL j =================
{
  const g=svg.append("g");
  letter(g,603,650,"j");
  const ys=d3.scaleLinear().domain([0,20]).range([732,660]);
  const L=nested(["all"],jCats,662,741,9.5,9.5);
  yAxis(g,d3.scaleLinear().domain([0,20.5]).range([732,658]),[0,10,20],657);
  line(g,656,732,749,732,"#000",2.2);
  rich(g,617,694,"\u0394 tone (%)",{rot:-90,anchor:"middle"});
  const specs=[[jWT,COL.grey,"#000"],[jAK,COL.lteal,COL.teal],[jAC,COL.lpink,COL.pink]];
  jCats.forEach((c,i)=>{
    const p=L.pos("all",c);
    barSet(g,{x:p.x,w:p.w,mean:jMeans[i],sem:jSems[i],pts:specs[i][0],fill:specs[i][1],stroke:specs[i][2],dot:specs[i][2],r:3.5},ys,0);
    if(i>0) rich(g,p.x+p.w/2,721,"*",{anchor:"middle"});
  });
  [[646,COL.grey,"#000","WT","#000"],[663,COL.lteal,COL.teal,KO("AKAP5"),COL.teal],[679,COL.lpink,COL.pink,KO("AC5"),COL.pink]].forEach(l=>{
    g.append("rect").attr("x",682).attr("y",l[0]).attr("width",9).attr("height",8).attr("fill",l[1]).attr("stroke",l[2]).attr("stroke-width",1.2);
    rich(g,694,l[0]+8,l[3],{fill:l[4],size:12.5});
  });
}
</script>
</body></html>
